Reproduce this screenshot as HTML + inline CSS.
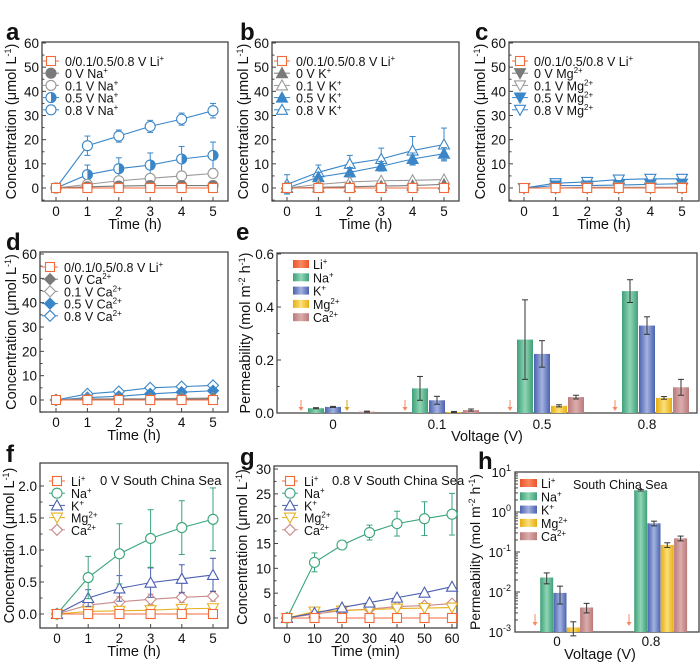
<!DOCTYPE html>
<html><head><meta charset="utf-8"><style>
body{margin:0;background:#fff;}
svg{display:block;font-family:"Liberation Sans",Arial,sans-serif;}
</style></head><body>
<svg id="s" width="700" height="664" viewBox="0 0 700 664" xmlns="http://www.w3.org/2000/svg"></svg>
<script>
var S=document.getElementById('s'),H='';
function t(x,y,s,o){o=o||{};H+='<text x="'+x+'" y="'+y+'" font-size="'+(o.fs||13)+'" text-anchor="'+(o.a||'middle')+'" fill="'+(o.c||'#111')+'"'+(o.w?' font-weight="bold"':'')+(o.r?' transform="rotate(-90 '+x+' '+y+')"':'')+'>'+s+'</text>';}
function ln(x1,y1,x2,y2,c,w){H+='<line x1="'+x1+'" y1="'+y1+'" x2="'+x2+'" y2="'+y2+'" stroke="'+c+'" stroke-width="'+(w||1)+'"/>';}
function mk(type,x,y,c,f){var r=4.5;f=f||'#fff';
 if(type=='sq')H+='<rect x="'+(x-r)+'" y="'+(y-r)+'" width="'+2*r+'" height="'+2*r+'" fill="'+f+'" stroke="'+c+'" stroke-width="1.1"/>';
 else if(type=='ci')H+='<circle cx="'+x+'" cy="'+y+'" r="'+(r+0.5)+'" fill="'+f+'" stroke="'+c+'" stroke-width="1.1"/>';
 else if(type=='half'){H+='<circle cx="'+x+'" cy="'+y+'" r="'+(r+0.5)+'" fill="#fff" stroke="'+c+'" stroke-width="1.1"/><path d="M'+x+' '+(y-r-0.5)+' A'+(r+.5)+' '+(r+.5)+' 0 0 1 '+x+' '+(y+r+.5)+'Z" fill="'+c+'"/>';}
 else if(type=='tu')H+='<polygon points="'+x+','+(y-r-1)+' '+(x+r+1)+','+(y+r)+' '+(x-r-1)+','+(y+r)+'" fill="'+f+'" stroke="'+c+'" stroke-width="1.1"/>';
 else if(type=='td')H+='<polygon points="'+x+','+(y+r+1)+' '+(x+r+1)+','+(y-r)+' '+(x-r-1)+','+(y-r)+'" fill="'+f+'" stroke="'+c+'" stroke-width="1.1"/>';
 else if(type=='di')H+='<polygon points="'+x+','+(y-r-1)+' '+(x+r+1)+','+y+' '+x+','+(y+r+1)+' '+(x-r-1)+','+y+'" fill="'+f+'" stroke="'+c+'" stroke-width="1.1"/>';
}
function frame(L,T,R,B){H+='<rect x="'+L+'" y="'+T+'" width="'+(R-L)+'" height="'+(B-T)+'" fill="none" stroke="#444" stroke-width="1.3"/>';}
function panel(p){
 frame(p.L,p.T,p.R,p.B);
 var sx=function(v){return p.x0+(v-p.xv0)*(p.x1-p.x0)/(p.xv1-p.xv0);};
 var sy=function(v){return p.y0+(v-p.yv0)*(p.y1-p.y0)/(p.yv1-p.yv0);};
 p.yt.forEach(function(v){var y=sy(v);ln(p.L,y,p.L+4,y,'#444');t(p.L-3,y+5,v,{a:'end',fs:13.5});});
 if(p.ym)p.ym.forEach(function(v){ln(p.L,sy(v),p.L+2.5,sy(v),'#444');});
 p.xt.forEach(function(v){var x=sx(v);ln(x,p.B,x,p.B-4,'#444');t(x,p.B+15,v,{fs:13.5});});
 t((p.L+p.R)/2,p.B+28,p.xl,{fs:14.5});
 t(p.yx,(p.T+p.B)/2,p.yl,{fs:14.5,r:1});
 t(p.lx,p.ly,p.lt,{fs:24,w:1,a:'start'});
 p.s.slice().reverse().forEach(function(s){
  var pts=s.d.map(function(v,i){return [sx(p.xs[i]),sy(v)];});
  H+='<polyline points="'+pts.map(function(q){return q.join(',');}).join(' ')+'" fill="none" stroke="'+s.c+'" stroke-width="1.1"/>';
  if(s.e)s.e.forEach(function(e,i){if(!e)return;var x=pts[i][0];ln(x,sy(s.d[i]-e),x,sy(s.d[i]+e),s.c);ln(x-3,sy(s.d[i]+e),x+3,sy(s.d[i]+e),s.c);ln(x-3,sy(s.d[i]-e),x+3,sy(s.d[i]-e),s.c);});
  pts.forEach(function(q){mk(s.m,q[0],q[1],s.c,s.f);});
 });
 p.s.forEach(function(s,i){var y=p.lgy+i*12.2;ln(p.lgx-8,y,p.lgx+8,y,s.c);mk(s.m,p.lgx,y,s.c,s.f);t(p.lgx+14,y+5,s.n,{a:'start',fs:12.5});});
}
var OR='#f26a3a',GR='#7a7a7a',BL='#3a86c8';
var yl='Concentration (μmol L<tspan dy="-5" font-size="9">-1</tspan><tspan dy="5">)</tspan>';
var x6=[0,1,2,3,4,5],Z=[0,0,0,0,0,0],base={xs:x6,xv0:0,xv1:5,yv0:0,yv1:60,yt:[0,10,20,30,40,50,60],ym:[-5,5,15,25,35,45,55],xt:[0,1,2,3,4,5],xl:'Time (h)',yl:yl};
function P(o){var r={};for(var k in base)r[k]=base[k];for(k in o)r[k]=o[k];panel(r);}
var li='0/0.1/0.5/0.8 V Li<tspan dy="-5" font-size="8">+</tspan>';
function sp(s){return '<tspan dy="-5" font-size="8">'+s+'</tspan>';}
P({L:42,T:42,R:228,B:201,x0:56,x1:213,y0:188,y1:43,yx:16,lx:6,ly:40,lt:'a',lgx:51,lgy:61,s:[
 {n:li,m:'sq',c:OR,d:Z},{n:'0 V Na'+sp('+'),m:'ci',c:GR,f:GR,d:[0,.5,.8,1,1,1]},
 {n:'0.1 V Na'+sp('+'),m:'ci',c:'#999',d:[0,1.5,3,4,5,6]},
 {n:'0.5 V Na'+sp('+'),m:'half',c:BL,d:[0,5.5,8,9.5,12,13.5],e:[0,4,4.5,5,5.2,5.5]},
 {n:'0.8 V Na'+sp('+'),m:'ci',c:BL,d:[0,17.5,21.5,25.5,28.5,32],e:[0,4,2.5,2.5,2.5,3]}]});
P({L:272,T:42,R:459,B:201,x0:287,x1:444,y0:188,y1:43,yx:248,lx:240,ly:40,lt:'b',lgx:282,lgy:61,s:[
 {n:li,m:'sq',c:OR,d:Z},{n:'0 V K'+sp('+'),m:'tu',c:GR,f:GR,d:[0,.3,.5,.8,1,1.5]},
 {n:'0.1 V K'+sp('+'),m:'tu',c:'#999',d:[0,1.5,2.5,3,3.2,3.5]},
 {n:'0.5 V K'+sp('+'),m:'tu',c:BL,f:BL,d:[0,4.5,6.5,9,12,14.2],e:[2,2,2,2,2.5,2.5]},
 {n:'0.8 V K'+sp('+'),m:'tu',c:BL,d:[1.5,6.5,10,12,15.5,18],e:[4,3,3.5,4.5,5.8,6.8]}]});
P({L:509,T:42,R:699,B:201,x0:524,x1:682,y0:188,y1:43,yx:485,lx:475,ly:40,lt:'c',lgx:520,lgy:61,s:[
 {n:li,m:'sq',c:OR,d:Z},{n:'0 V Mg'+sp('2+'),m:'td',c:GR,f:GR,d:Z},
 {n:'0.1 V Mg'+sp('2+'),m:'td',c:'#999',d:[0,0,.3,.3,.3,.3]},
 {n:'0.5 V Mg'+sp('2+'),m:'td',c:BL,f:BL,d:[0,1,1,1.2,1.5,1.8]},
 {n:'0.8 V Mg'+sp('2+'),m:'td',c:BL,d:[0,2,2.5,3.5,3.8,3.8]}]});
P({L:40,T:252,R:228,B:412,x0:56,x1:213,y0:400,y1:254,yx:16,lx:6,ly:250,lt:'d',lgx:50,lgy:267,s:[
 {n:li,m:'sq',c:OR,d:Z},{n:'0 V Ca'+sp('2+'),m:'di',c:GR,f:GR,d:[0,.2,.3,.3,.4,.5]},
 {n:'0.1 V Ca'+sp('2+'),m:'di',c:'#999',d:[0,.5,.5,.5,.7,.8]},
 {n:'0.5 V Ca'+sp('2+'),m:'di',c:BL,f:BL,d:[0,1,1.5,2.5,3.2,3.8]},
 {n:'0.8 V Ca'+sp('2+'),m:'di',c:BL,d:[0,2.5,3.5,5,5.5,6]}]});
var G='#3aa57a',K='#4a5fb0',MG='#e6b020',CA='#c98a8a';
panel({L:40,T:463,R:228,B:628,xs:x6,xv0:0,xv1:5,x0:57,x1:213,yv0:0,yv1:2,y0:614,y1:486,yt:['0.0','0.5','1.0','1.5','2.0'],ym:[.25,.75,1.25,1.75],xt:[0,1,2,3,4,5],xl:'Time (h)',yl:yl,yx:14,lx:6,ly:462,lt:'f',lgx:57,lgy:481,s:[
 {n:'Li'+sp('+'),m:'sq',c:OR,d:Z},
 {n:'Na'+sp('+'),m:'ci',c:G,d:[0,.57,.94,1.18,1.35,1.48],e:[0,.33,.47,.45,.42,.49]},
 {n:'K'+sp('+'),m:'tu',c:K,d:[0,.25,.4,.49,.55,.61],e:[0,.13,.2,.23,.22,.26]},
 {n:'Mg'+sp('2+'),m:'td',c:MG,d:[0,.04,.05,.06,.08,.09]},
 {n:'Ca'+sp('2+'),m:'di',c:CA,d:[0,.14,.19,.23,.26,.28],e:[0,.05,.08,.08,.08,.08]}]});
t(100,485,'0 V  South China Sea',{a:'start',fs:13});
panel({L:274,T:466,R:457,B:628,xs:[0,10,20,30,40,50,60],xv0:0,xv1:60,x0:287,x1:452,yv0:0,yv1:30,y0:618,y1:469,yt:[0,5,10,15,20,25,30],ym:[2.5,7.5,12.5,17.5,22.5,27.5],xt:[0,10,20,30,40,50,60],xl:'Time (min)',yl:yl,yx:247,lx:240,ly:465,lt:'g',lgx:290,lgy:481,s:[
 {n:'Li'+sp('+'),m:'sq',c:OR,d:[0,0,0,0,0,0,0]},
 {n:'Na'+sp('+'),m:'ci',c:G,d:[0,11.2,14.7,17.2,19,20,20.9],e:[0,1.9,.5,1.5,2.5,3.4,4.2]},
 {n:'K'+sp('+'),m:'tu',c:K,d:[0,1,2.1,3.1,4.1,5.1,6.3]},
 {n:'Mg'+sp('2+'),m:'td',c:MG,d:[0,1.3,1.5,1.7,1.9,2,2.1]},
 {n:'Ca'+sp('2+'),m:'di',c:CA,d:[0,.8,1.5,1.8,2.3,2.5,2.9]}]});
t(332,485,'0.8 V  South China Sea',{a:'start',fs:13});
H+='<defs>';
[['gl','#f0522a','#f58a60'],['gn','#3f9f78','#8fd6b6'],['gk','#4a62ae','#a3b2e0'],['gm','#e8ad10','#fbe07a'],['gc','#b97a7a','#dcadad']].forEach(function(g){H+='<linearGradient id="'+g[0]+'" x1="0" x2="1"><stop offset="0" stop-color="'+g[1]+'"/><stop offset="0.5" stop-color="'+g[2]+'"/><stop offset="1" stop-color="'+g[1]+'"/></linearGradient>';});
H+='</defs>';
var GS=['gl','gn','gk','gm','gc'];
function bar(x,w,y0,y,g,e1,e2){H+='<rect x="'+(x-w/2)+'" y="'+y+'" width="'+w+'" height="'+(y0-y)+'" fill="url(#'+g+')"/>';if(e1!=null){ln(x,e1,x,e2,'#333');ln(x-3,e1,x+3,e1,'#333');ln(x-3,e2,x+3,e2,'#333');}}
function arrow(x,y1,y2,c){ln(x,y1,x,y2-3,c);H+='<polygon points="'+(x-2.5)+','+(y2-4)+' '+(x+2.5)+','+(y2-4)+' '+x+','+y2+'" fill="'+c+'"/>';}
frame(277,253,697,413);
var ey=function(v){return 413-v*159/0.6;};
[0,0.2,0.4,0.6].forEach(function(v){ln(277,ey(v),281,ey(v),'#444');t(274,ey(v)+5,v.toFixed(1),{a:'end',fs:13.5});});
[.1,.3,.5].forEach(function(v){ln(277,ey(v),279.5,ey(v),'#444');});
var EC=[333,437,542,647],EL=['0','0.1','0.5','0.8'];
var ED=[[0,.018,.023,0,.005],[0,.093,.048,.004,.011],[0,.277,.223,.027,.06],[0,.46,.33,.057,.097]];
var EE=[[0,.002,.002,0,.002],[0,.045,.015,.002,.004],[0,.15,.05,.004,.007],[0,.043,.033,.005,.03]];
EC.forEach(function(c,gi){ln(c,413,c,409,'#444');t(c,429,EL[gi],{fs:13.5});
 for(var k=1;k<5;k++){var v=ED[gi][k];if(!v)continue;var e=EE[gi][k];bar(c+(k-2)*17,16,413,ey(v),GS[k],ey(v+e),ey(Math.max(v-e,0)));}
 arrow(c-32,400,411,'#f58a60');});
arrow(347,400,411,'#d9a520');
t(487,441,'Voltage (V)',{fs:14.5});
t(250,333,'Permeability (mol m<tspan dy="-5" font-size="9">-2</tspan><tspan dy="5"> h</tspan><tspan dy="-5" font-size="9">-1</tspan><tspan dy="5">)</tspan>',{fs:14.5,r:1});
t(236,240,'e',{fs:24,w:1,a:'start'});
var LN=['Li'+sp('+'),'Na'+sp('+'),'K'+sp('+'),'Mg'+sp('2+'),'Ca'+sp('2+')];
LN.forEach(function(n,i){var y=264+i*13.3;H+='<rect x="293" y="'+(y-4)+'" width="16" height="8" fill="url(#'+GS[i]+')"/>';t(313,y+5,n,{a:'start',fs:12.5});});
// h
frame(515,472,699,632);
var hy=function(v){return 632-(Math.log10(v)+3)*40;};
[-3,-2,-1,0,1].forEach(function(p){var y=632-(p+3)*40;ln(515,y,520,y,'#444');t(511,y+5,'10<tspan dy="-6" font-size="9">'+p+'</tspan>',{a:'end',fs:13});
 if(p<1)for(var m=2;m<10;m++){var yy=y-Math.log10(m)*40;ln(515,yy,518,yy,'#444');}});
var HC=[560,654],HD=[[0,.023,.0095,.0013,.0041],[0,3.5,.52,.15,.22]],HE=[[0,.007,.0045,.0005,.0011],[0,.15,.07,.02,.03]];
HC.forEach(function(c,gi){ln(c-3,632,c-3,628,'#444');t(c-3,646,['0','0.8'][gi],{fs:13.5});
 for(var k=1;k<5;k++){var v=HD[gi][k],e=HE[gi][k];bar(c+(k-2)*13.3,13,632,hy(v),GS[k],hy(v+e),hy(v-e));}
 arrow(c-25,614,626,'#f58a60');});
t(600,659,'Voltage (V)',{fs:14.5});
t(480,552,'Permeability (mol m<tspan dy="-5" font-size="9">-2</tspan><tspan dy="5"> h</tspan><tspan dy="-5" font-size="9">-1</tspan><tspan dy="5">)</tspan>',{fs:14,r:1});
t(478,469,'h',{fs:24,w:1,a:'start'});
t(573,489,'South China Sea',{a:'start',fs:12.5});
LN.forEach(function(n,i){var y=483+i*13.3;H+='<rect x="520" y="'+(y-4)+'" width="17" height="8" fill="url(#'+GS[i]+')"/>';t(541,y+5,n,{a:'start',fs:12.5});});
S.innerHTML=H;
</script>
</body></html>
